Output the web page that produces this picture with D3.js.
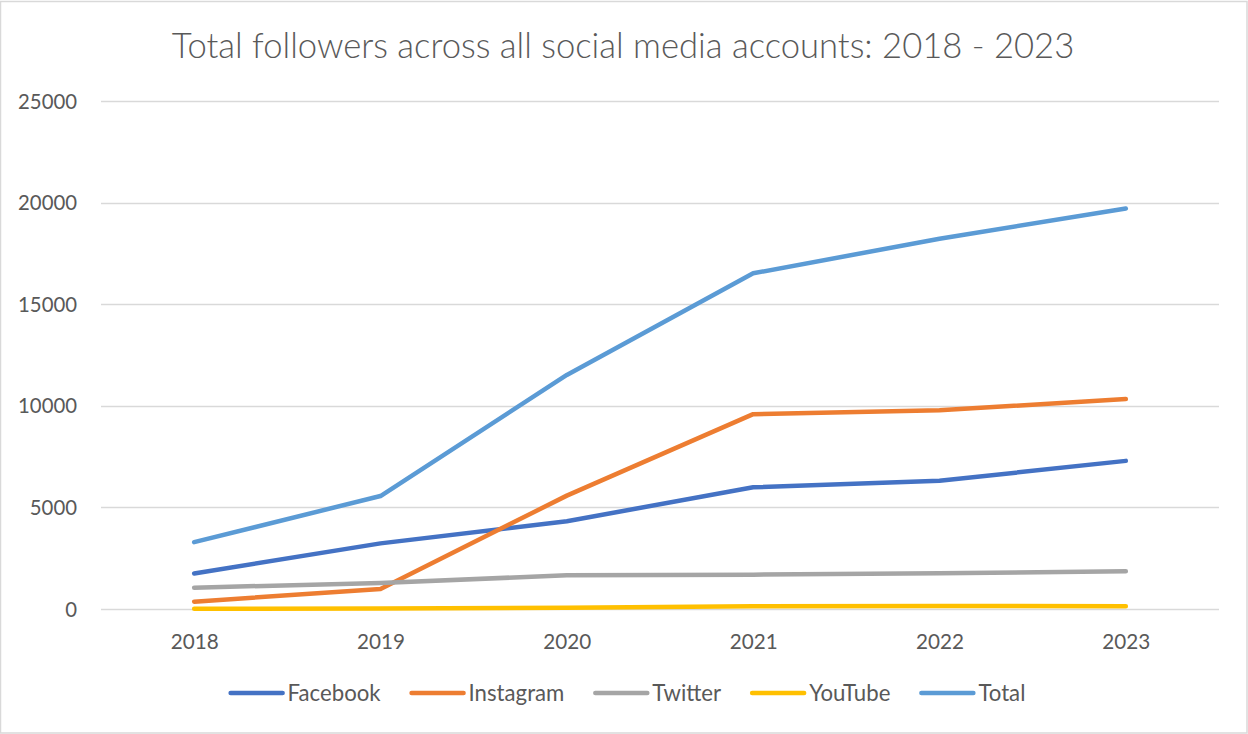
<!DOCTYPE html>
<html>
<head>
<meta charset="utf-8">
<script src="https://cdn.jsdelivr.net/npm/d3@7"></script>
<style>
  html, body { margin: 0; padding: 0; background: #fff; }
  svg { display: block; }
</style>
</head>
<body>
<svg id="chart" width="1248" height="734"></svg>
<script>
// ---- data ----
const years = ["2018", "2019", "2020", "2021", "2022", "2023"];
const facebook  = [1750, 3230, 4320, 5990, 6310, 7290];
const instagram = [360, 985, 5580, 9590, 9780, 10330];
const twitter   = [1050, 1280, 1660, 1690, 1760, 1860];
const youtube   = [10, 20, 60, 140, 150, 140];
const total     = [3290, 5560, 11520, 16520, 18220, 19710];
const seriesNames = ["Facebook", "Instagram", "Twitter", "YouTube", "Total"];
const yTicks = [0, 5000, 10000, 15000, 20000, 25000];
const titleText = "Total followers across all social media accounts: 2018 - 2023";

const colors = ["#4472C4", "#ED7D31", "#A5A5A5", "#FFC000", "#5B9BD5"];
const seriesValues = [facebook, instagram, twitter, youtube, total];

const W = 1248, H = 734;
const svg = d3.select("#chart");
const FONT = "Lato, 'Open Sans', sans-serif";
const TXT = "#595959";

// border
svg.append("rect").attr("x", 0.5).attr("y", 1.5).attr("width", W - 1.5).attr("height", H - 2.5)
  .attr("fill", "#fff").attr("stroke", "#d9d9d9").attr("stroke-width", 1.5);

// fit font size helper
function fit(sel, targetW, base) {
  sel.attr("font-size", base);
  const w = sel.node().getComputedTextLength();
  sel.attr("font-size", base * targetW / w);
  return base * targetW / w;
}

const x = d3.scalePoint().domain(years).range([101, 1219]).padding(0.5);
const y = d3.scaleLinear().domain([0, 25000]).range([609, 101]);

// gridlines
svg.append("g").selectAll("line").data(yTicks).join("line")
  .attr("x1", 101).attr("x2", 1219)
  .attr("y1", d => Math.round(y(d)) + 0.5).attr("y2", d => Math.round(y(d)) + 0.5)
  .attr("stroke", "#d9d9d9").attr("stroke-width", 1.3);

// y axis labels
const yAxis = d3.axisLeft(y).tickValues(yTicks).tickSize(0).tickPadding(0).tickFormat(d3.format("d"));
const yg = svg.append("g").attr("transform", "translate(77,0)").call(yAxis);
yg.select(".domain").remove();
yg.selectAll("text").attr("fill", TXT).attr("font-family", FONT).attr("dy", "0.35em");
const yfs = fit(yg.selectAll("text").filter(d => d === 25000), 59, 18);
yg.selectAll("text").attr("font-size", yfs);

// x axis labels
const xAxis = d3.axisBottom(x).tickSize(0).tickPadding(0);
const xg = svg.append("g").attr("transform", "translate(0,642)").call(xAxis);
xg.select(".domain").remove();
xg.selectAll("text").attr("fill", TXT).attr("font-family", FONT).attr("dy", "0.35em");
const xfs = fit(xg.selectAll("text").filter(d => d === "2018"), 48, 18);
xg.selectAll("text").attr("font-size", xfs);

// lines
const line = d3.line().x((d, i) => x(years[i])).y(d => y(d));
svg.append("g").selectAll("path").data(seriesValues).join("path")
  .attr("d", d => line(d))
  .attr("fill", "none")
  .attr("stroke", (d, i) => colors[i])
  .attr("stroke-width", 4.5)
  .attr("stroke-linecap", "round")
  .attr("stroke-linejoin", "round");

// title
const title = svg.append("text").attr("x", 623).attr("y", 58).attr("text-anchor", "middle")
  .attr("fill", TXT).attr("font-family", FONT).attr("font-weight", 300).text(titleText);
fit(title, 903, 30);

// legend
const lg = svg.append("g");
const items = lg.selectAll("g").data(seriesNames).join("g");
items.append("text").attr("fill", TXT).attr("font-family", FONT).attr("dy", "0.35em").text(d => d);
const lfs = fit(items.select("text").filter(d => d === "Facebook"), 93, 20);
items.select("text").attr("font-size", lfs);
let cx = 0;
const positions = [];
items.each(function(d, i) {
  const t = d3.select(this).select("text");
  const tw = t.node().getComputedTextLength();
  positions.push(cx);
  d3.select(this).append("line").attr("x1", 2).attr("x2", 54).attr("y1", 0).attr("y2", 0)
    .attr("stroke", colors[i]).attr("stroke-width", 4.5).attr("stroke-linecap", "round");
  t.attr("x", 59);
  cx += 59 + tw + 29;
});
const legendW = cx - 29;
const lx0 = 627 - legendW / 2;
items.attr("transform", (d, i) => `translate(${lx0 + positions[i]},693)`);
</script>
</body>
</html>
